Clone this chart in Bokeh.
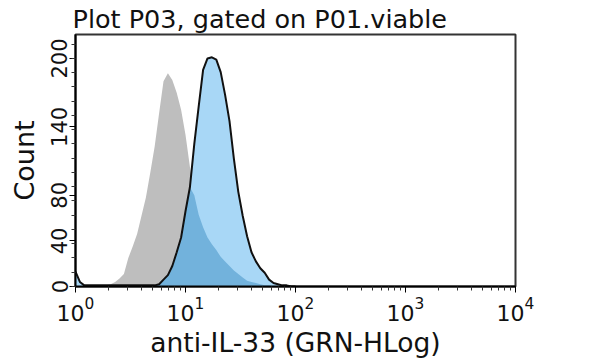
from bokeh.plotting import figure
from bokeh.models import ColumnDataSource, FixedTicker, Range1d
from bokeh.embed import file_html
from bokeh.resources import INLINE

# histogram channels (log10 of fluorescence)
log_channel = [0.00, 0.04, 0.08, 0.12, 0.16, 0.20, 0.24, 0.28, 0.32, 0.36,
               0.40, 0.44, 0.48, 0.52, 0.56, 0.60, 0.64, 0.68, 0.72, 0.76,
               0.80, 0.84, 0.88, 0.92, 0.96, 1.00, 1.04, 1.08, 1.12, 1.16,
               1.20, 1.24, 1.28, 1.32, 1.36, 1.40, 1.44, 1.48, 1.52, 1.56,
               1.60, 1.64, 1.68, 1.72, 1.76, 1.80, 1.84, 1.88, 1.92, 1.96, 2.00]
isotype_counts = [0, 0, 0, 0, 0, 0, 1, 1, 2, 4,
                  7, 11, 25, 35, 46, 62, 78, 100, 123, 152,
                  180, 187, 181, 170, 155, 133, 105, 80, 63, 52,
                  43, 37, 32, 26, 22, 18, 14, 11, 8, 5,
                  4, 3, 2, 1, 1, 0, 0, 0, 0, 0, 0]
il33_counts = [13, 4, 1, 1, 1, 1, 1, 1, 1, 1,
               1, 1, 1, 1, 1, 1, 1, 1, 1, 2,
               6, 10, 18, 30, 43, 66, 87, 125, 158, 190,
               200, 201, 199, 188, 168, 145, 112, 83, 62, 44,
               30, 22, 16, 12, 6, 3, 2, 1, 1, 0, 0]

y_major = [0, 40, 80, 140, 200]
y_minor = [0, 12.5, 25, 37.5, 50, 62.5, 75, 87.5, 100, 112.5, 125, 137.5,
           150, 162.5, 175, 187.5, 200, 212.5]
x_major = [1, 10, 100, 1000, 10000]

x_vals = [10 ** v for v in log_channel]
overlap = [min(a, b) for a, b in zip(isotype_counts, il33_counts)]
src = ColumnDataSource(dict(x=x_vals, iso=isotype_counts, il33=il33_counts, ov=overlap))

FONT = "DejaVu Sans"

p = figure(width=596, height=360, x_axis_type="log",
           x_range=Range1d(1, 10000), y_range=Range1d(0, 221),
           output_backend="svg", toolbar_location=None,
           min_border_left=75, min_border_right=81,
           min_border_top=33, min_border_bottom=74,
           title="Plot P03, gated on P01.viable")

p.title.text_font = FONT
p.title.text_font_size = "25.5px"
p.title.text_font_style = "normal"
p.title.text_color = "#111111"
p.title.offset = -3
p.title.standoff = 2

p.background_fill_color = "white"
p.border_fill_color = "white"
p.outline_line_color = "#333333"
p.outline_line_width = 2
p.xgrid.visible = False
p.ygrid.visible = False

p.varea(x="x", y1=0, y2="iso", source=src, color="#bebebe")
p.varea(x="x", y1=0, y2="il33", source=src, color="#a8d7f6")
p.varea(x="x", y1=0, y2="ov", source=src, color="#72b2dc")
p.line(x="x", y="il33", source=src, color="#111111", line_width=2)

x_minor = [m * d for d in [1, 10, 100, 1000] for m in range(2, 10)]
p.xaxis.ticker = FixedTicker(ticks=x_major, minor_ticks=x_minor)
p.yaxis.ticker = FixedTicker(ticks=y_major, minor_ticks=y_minor)

for ax in (p.xaxis[0], p.yaxis[0]):
    ax.axis_line_color = "black"
    ax.axis_line_width = 2
    ax.major_tick_line_color = "black"
    ax.minor_tick_line_color = "#333333"
    ax.major_tick_in = 0
    ax.minor_tick_in = 0
    ax.major_tick_out = 6
    ax.minor_tick_out = 4
    ax.major_label_text_font = FONT
    ax.major_label_text_color = "#111111"
    ax.axis_label_text_font = FONT
    ax.axis_label_text_font_style = "normal"
    ax.axis_label_text_color = "#111111"

p.xaxis.axis_label = "anti-IL-33 (GRN-HLog)"
p.xaxis.axis_label_text_font_size = "26.5px"
p.xaxis.major_label_text_font_size = "22px"
p.xaxis.major_label_standoff = 4
p.xaxis.axis_label_standoff = 3

p.yaxis.axis_label = "Count"
p.yaxis.axis_label_text_font_size = "27px"
p.yaxis.major_label_text_font_size = "21px"
p.yaxis.major_label_orientation = "parallel"
p.yaxis.major_label_standoff = 2
p.yaxis.axis_label_standoff = 9

open("out.html", "w").write(file_html(p, INLINE))
